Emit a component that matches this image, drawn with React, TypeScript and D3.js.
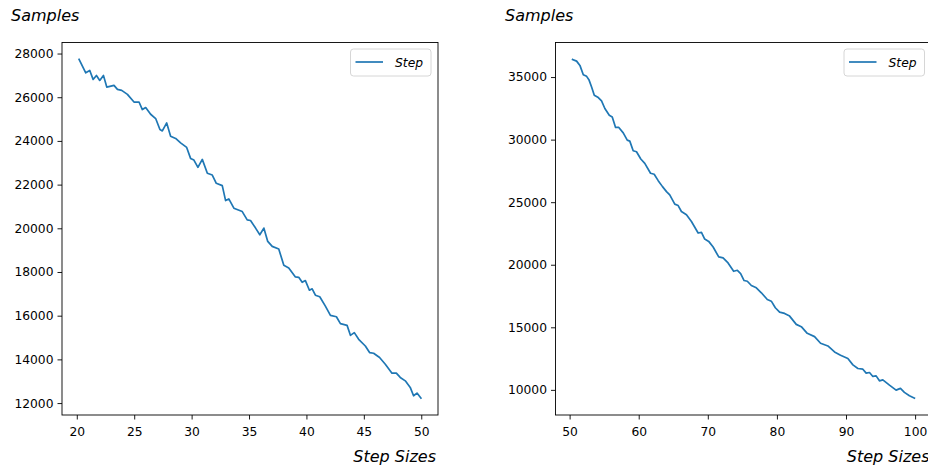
import React, { useEffect, useRef } from "react";
import * as d3 from "d3";

// values
const LEFT_X = [20.2, 20.78, 21.13, 21.42, 21.71, 22.0, 22.32, 22.61, 23.24, 23.54, 23.91, 24.41, 24.98, 25.42, 25.71, 26.0, 26.43, 26.87, 27.24, 27.45, 27.83, 28.17, 28.61, 29.04, 29.57, 29.91, 30.2, 30.55, 30.93, 31.37, 31.8, 32.15, 32.67, 32.96, 33.24, 33.68, 34.41, 34.84, 35.13, 35.57, 35.94, 36.29, 36.63, 37.02, 37.59, 38.03, 38.46, 39.04, 39.33, 39.63, 39.91, 40.26, 40.5, 40.78, 41.16, 41.65, 42.09, 42.61, 42.96, 43.54, 43.83, 44.17, 44.55, 45.13, 45.5, 45.85, 46.37, 46.87, 47.45, 47.83, 48.17, 48.61, 49.04, 49.33, 49.63, 49.97];
const LEFT_Y = [27730, 27120, 27225, 26815, 26997, 26770, 27000, 26464, 26541, 26359, 26314, 26131, 25780, 25780, 25434, 25525, 25220, 25024, 24522, 24458, 24823, 24217, 24112, 23911, 23702, 23200, 23123, 22790, 23155, 22517, 22439, 22061, 21952, 21268, 21345, 20921, 20766, 20388, 20356, 20010, 19704, 20010, 19399, 19171, 19053, 18305, 18187, 17776, 17758, 17530, 17608, 17166, 17229, 16938, 16865, 16436, 16012, 15953, 15634, 15557, 15101, 15224, 14919, 14613, 14312, 14280, 14084, 13779, 13369, 13369, 13173, 13018, 12717, 12334, 12457, 12229];

const RIGHT_X = [50.43, 51.01, 51.49, 51.98, 52.46, 52.79, 53.18, 53.57, 54.15, 54.62, 55.1, 55.74, 56.17, 56.65, 57.12, 57.76, 58.34, 58.71, 59.2, 59.68, 60.3, 60.88, 61.71, 62.24, 62.82, 63.44, 64.02, 64.49, 65.22, 65.71, 66.18, 66.91, 67.63, 68.6, 69.08, 69.55, 70.13, 70.77, 71.58, 72.21, 72.93, 73.74, 74.28, 74.75, 75.25, 75.72, 76.3, 77.02, 77.75, 78.61, 79.19, 79.77, 80.39, 81.11, 81.84, 82.8, 83.53, 84.39, 85.45, 86.32, 87.38, 88.34, 89.21, 90.27, 91.0, 91.72, 92.44, 92.92, 93.4, 93.89, 94.36, 94.84, 95.33, 96.29, 97.25, 97.88, 98.45, 99.18, 99.9];
const RIGHT_Y = [36409, 36274, 35931, 35191, 35056, 34793, 34204, 33543, 33360, 33090, 32485, 31951, 31816, 30972, 30972, 30542, 29961, 29882, 29110, 29030, 28449, 28107, 27311, 27231, 26722, 26244, 25846, 25583, 24843, 24732, 24254, 23991, 23458, 22535, 22582, 22057, 21866, 21420, 20624, 20545, 20147, 19478, 19558, 19295, 18738, 18682, 18340, 18157, 17759, 17225, 17090, 16565, 16214, 16111, 15896, 15235, 15052, 14519, 14256, 13723, 13508, 13030, 12768, 12505, 11996, 11709, 11653, 11335, 11390, 11072, 11120, 10722, 10802, 10380, 9982, 10117, 9798, 9528, 9345];

const LEFT_X_TICKS = [20, 25, 30, 35, 40, 45, 50];
const LEFT_Y_TICKS = [12000, 14000, 16000, 18000, 20000, 22000, 24000, 26000, 28000];
const RIGHT_X_TICKS = [50, 60, 70, 80, 90, 100];
const RIGHT_Y_TICKS = [10000, 15000, 20000, 25000, 30000, 35000];

const SERIES_NAME = "Step";
const X_LABEL = "Step Sizes";
const Y_LABEL = "Samples";

const W = 928,
  H = 468;

function drawPanel(svg, p) {
  var g = svg.append("g");

  // matplotlib style 5% margins
  var xe = d3.extent(p.xs),
    ye = d3.extent(p.ys);
  var xm = (xe[1] - xe[0]) * 0.05,
    ym = (ye[1] - ye[0]) * 0.05;

  const x = d3
    .scaleLinear()
    .domain([xe[0] - xm, xe[1] + xm])
    .range([p.left, p.right]);
  const y = d3
    .scaleLinear()
    .domain([ye[0] - ym, ye[1] + ym])
    .range([p.bottom, p.top]);

  var line = d3
    .line()
    .x((d) => x(d[0]))
    .y((d) => y(d[1]));

  g.append("path")
    .datum(p.xs.map((v, i) => [v, p.ys[i]]))
    .attr("d", line)
    .attr("fill", "none")
    .attr("stroke", "#1f77b4")
    .attr("stroke-width", 1.7)
    .attr("stroke-linejoin", "round")
    .attr("stroke-linecap", "square");

  var xAxis = g
    .append("g")
    .attr("transform", `translate(0, ${p.bottom})`)
    .call(
      d3.axisBottom(x).tickValues(p.xTicks).tickSize(4.5).tickPadding(7.5).tickFormat(d3.format("d"))
    );
  var yAxis = g
    .append("g")
    .attr("transform", `translate(${p.left}, 0)`)
    .call(
      d3.axisLeft(y).tickValues(p.yTicks).tickSize(4.5).tickPadding(4).tickFormat(d3.format("d"))
    );

  [xAxis, yAxis].forEach((a) => {
    a.select(".domain").remove();
    a.selectAll("line").attr("stroke", "#000").attr("stroke-width", 0.9);
    a.selectAll("text")
      .attr("fill", "#000")
      .attr("font-family", "DejaVu Sans")
      .attr("font-size", 12.3);
  });

  // frame
  g.append("rect")
    .attr("x", p.left)
    .attr("y", p.top)
    .attr("width", p.right - p.left)
    .attr("height", p.bottom - p.top)
    .attr("fill", "none")
    .attr("stroke", "#000")
    .attr("stroke-width", 0.9);

  // legend
  var lg = g.append("g").attr("transform", `translate(${p.right - 87.5}, ${p.top + 6.5})`);
  lg.append("rect")
    .attr("x", 0)
    .attr("y", 0)
    .attr("width", 80.5)
    .attr("height", 27)
    .attr("rx", 3)
    .attr("fill", "#fff")
    .attr("fill-opacity", 0.8)
    .attr("stroke", "#d6d6d6")
    .attr("stroke-width", 1);
  lg.append("line")
    .attr("x1", 5)
    .attr("x2", 32.5)
    .attr("y1", 13)
    .attr("y2", 13)
    .attr("stroke", "#1f77b4")
    .attr("stroke-width", 1.7);
  lg.append("text")
    .attr("x", 44.5)
    .attr("y", 17.5)
    .attr("font-family", "DejaVu Sans")
    .attr("font-style", "italic")
    .attr("font-size", 12.3)
    .attr("fill", "#000")
    .text(SERIES_NAME);

  // labels
  svg
    .append("text")
    .attr("x", p.labelX)
    .attr("y", 21)
    .attr("font-family", "DejaVu Sans")
    .attr("font-style", "italic")
    .attr("font-size", 16)
    .attr("fill", "#000")
    .text(Y_LABEL);
  svg
    .append("text")
    .attr("x", p.right - 2)
    .attr("y", 462)
    .attr("text-anchor", "end")
    .attr("font-family", "DejaVu Sans")
    .attr("font-style", "italic")
    .attr("font-size", 16)
    .attr("fill", "#000")
    .text(X_LABEL);
}

export default function App() {
  const ref = useRef(null);

  useEffect(() => {
    var svg = d3.select(ref.current);
    svg.selectAll("*").remove();

    drawPanel(svg, {
      xs: LEFT_X,
      ys: LEFT_Y,
      xTicks: LEFT_X_TICKS,
      yTicks: LEFT_Y_TICKS,
      left: 62,
      right: 438,
      top: 42.5,
      bottom: 415,
      labelX: 11,
    });
    drawPanel(svg, {
      xs: RIGHT_X,
      ys: RIGHT_Y,
      xTicks: RIGHT_X_TICKS,
      yTicks: RIGHT_Y_TICKS,
      left: 555.5,
      right: 931.5,
      top: 42.5,
      bottom: 415,
      labelX: 505,
    });
  }, []);

  return (
    <div style={{ position: "absolute", left: 0, top: 0 }}>
      <svg ref={ref} width={W} height={H} style={{ display: "block", background: "#fff" }}></svg>
    </div>
  );
}
